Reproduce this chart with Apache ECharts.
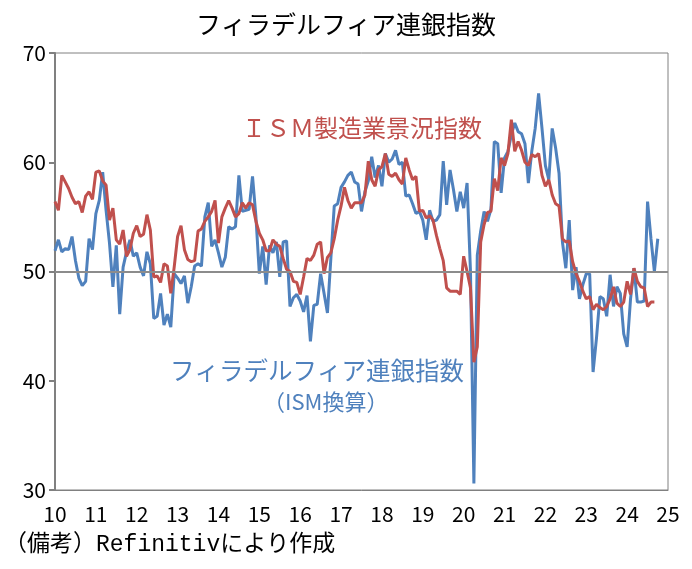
<!DOCTYPE html>
<html>
<head>
<meta charset="UTF-8">
<title>フィラデルフィア連銀指数</title>
<script src="https://cdn.jsdelivr.net/npm/echarts@6/dist/echarts.min.js"></script>
<style>
    html, body { margin: 0; padding: 0; background: #fff; }
    #chart { width: 692px; height: 569px; }
</style>
</head>
<body>
<div id="chart"></div>
<script>
    // 月次データ 2010年1月〜
    const yearLabels = ['10', '11', '12', '13', '14', '15', '16', '17', '18', '19', '20', '21', '22', '23', '24', '25'];

    // ISM製造業景況指数 (2010/1〜2024/9)
    const ismValues = [
        56.4, 55.6, 58.8, 58.2, 57.6, 56.8, 56.2, 56.4, 55.4, 56.9, 57.3, 56.6,
        59.1, 59.2, 58.3, 57.9, 54.7, 55.8, 52.9, 52.5, 53.8, 51.4, 52.0, 53.5,
        54.2, 53.2, 53.4, 55.2, 53.8, 49.5, 49.6, 49.0, 50.7, 50.5, 48.0, 50.4,
        53.2, 54.2, 52.0, 51.1, 50.9, 51.0, 53.7, 53.9, 54.6, 55.0, 55.5, 56.5,
        52.6, 55.0, 55.8, 56.5, 55.8, 55.0, 55.3, 56.3, 55.8, 56.3, 56.1, 54.6,
        53.5, 52.9, 51.9, 51.9, 52.9, 52.5, 52.3, 51.2, 50.2, 50.0, 49.1, 49.0,
        47.9, 49.5, 51.2, 51.0, 51.5, 52.5, 52.7, 49.8, 51.3, 51.7, 53.0, 54.7,
        56.0, 57.7, 56.5, 55.8, 56.3, 56.3, 56.3, 57.0, 60.1, 58.4, 57.8, 59.3,
        59.6, 60.8, 58.9, 58.7, 59.0, 58.4, 58.0, 60.4, 59.3, 58.4, 58.7, 55.5,
        55.6, 54.9, 55.1, 54.7, 53.3, 52.1, 51.0, 48.5, 48.2, 48.2, 48.2, 47.9,
        51.4, 50.0, 48.5, 41.7, 43.1, 52.7, 54.3, 55.4, 55.5, 58.5, 57.4, 60.4,
        59.7, 60.8, 63.9, 61.0, 61.9, 61.1, 60.0, 59.7, 60.7, 60.5, 60.8, 58.8,
        57.8, 58.4, 57.0, 56.2, 56.0, 53.0, 52.7, 52.8, 50.9, 49.8, 49.1, 48.2,
        47.5, 47.7, 46.5, 47.0, 46.7, 46.5, 46.8, 47.5, 48.6, 47.1, 46.8, 47.2,
        49.1, 47.9, 50.3, 49.1, 48.6, 48.5, 46.8, 47.2, 47.2
    ];

    // フィラデルフィア連銀指数 ISM換算 (2010/1〜2024/10)
    const phillyValues = [
        51.9, 52.9, 51.8, 52.1, 52.0, 53.2, 51.0, 49.4, 48.7, 49.1, 53.0, 52.0,
        55.3, 56.5, 59.1, 55.6, 52.6, 48.6, 52.4, 46.1, 50.4, 51.8, 52.9, 51.4,
        51.7, 50.4, 49.6, 51.8, 50.7, 45.7, 45.9, 48.0, 45.1, 46.1, 44.9, 49.8,
        49.4, 48.9, 49.6, 47.1, 48.6, 50.5, 50.7, 50.5, 55.0, 56.3, 52.3, 52.9,
        51.7, 50.4, 51.3, 54.1, 53.9, 54.1, 58.8, 55.5, 55.6, 55.7, 58.7, 55.0,
        49.8, 52.3, 48.8, 52.4, 51.7, 52.7, 49.5, 52.7, 52.8, 46.8, 47.6, 47.9,
        47.3, 46.3, 47.8, 43.6, 46.9, 47.0, 49.8, 48.0, 46.2, 51.2, 56.0, 56.2,
        57.7, 58.2, 58.8, 59.1, 58.2, 58.0, 55.5, 57.3, 58.3, 60.5, 58.6, 59.7,
        57.8, 60.8, 60.0, 60.3, 61.1, 59.8, 60.0, 56.9, 57.0, 56.2, 55.3, 55.5,
        54.7, 52.9, 55.6, 54.6, 54.7, 55.2, 60.1, 56.1, 59.3, 57.5, 55.5, 57.3,
        55.8, 58.1, 50.0, 30.6, 51.5, 53.7, 55.5, 54.6, 55.7, 61.9, 61.7, 57.2,
        60.4, 61.0, 62.5, 63.6, 62.8, 62.6, 61.7, 58.1, 61.0, 63.1, 66.3, 63.1,
        59.7, 58.4, 63.1, 61.3, 59.0, 52.7, 50.3, 54.7, 48.3, 50.4, 47.5, 48.8,
        49.8, 49.8, 40.8, 43.9, 47.7, 47.5, 45.9, 49.7, 46.8, 48.6, 48.0, 44.3,
        43.1, 47.5, 50.3, 47.2, 47.2, 47.3, 56.4, 53.0, 50.0, 53.0
    ];

    const refLine = 50;

    const FONT = "'Noto Sans CJK JP', sans-serif";
    const NOTE_FONT = "'Liberation Mono', 'Noto Sans CJK JP', monospace";
    const RED = '#C0504D';
    const BLUE = '#4F81BD';

    const chart = echarts.init(document.getElementById('chart'), null, { renderer: 'canvas' });

    const option = {
        animation: false,
        backgroundColor: '#fff',
        title: {
            text: 'フィラデルフィア連銀指数',
            left: 'center',
            top: 7,
            textStyle: { fontFamily: FONT, fontSize: 25, fontWeight: 'normal', color: '#000' }
        },
        grid: {
            left: 55,
            right: 24,
            top: 53,
            bottom: 79,
            show: true,
            borderColor: '#808080',
            borderWidth: 1
        },
        xAxis: {
            type: 'value',
            min: 0,
            max: 180,
            interval: 12,
            axisLine: { show: true, lineStyle: { color: '#808080', width: 1 } },
            axisTick: { show: false },
            splitLine: { show: false },
            axisLabel: {
                margin: 14,
                fontFamily: FONT,
                fontSize: 21,
                color: '#000',
                formatter: v => yearLabels[v / 12]
            }
        },
        yAxis: {
            type: 'value',
            min: 30,
            max: 70,
            interval: 10,
            axisLine: { show: true, lineStyle: { color: '#808080', width: 2 } },
            axisTick: { show: true, inside: false, length: 6, lineStyle: { color: '#808080', width: 2 } },
            splitLine: { show: false },
            axisLabel: { margin: 9, fontFamily: FONT, fontSize: 21, color: '#000' }
        },
        graphic: [
            {
                type: 'text', left: 242, top: 116,
                style: { text: 'ＩＳＭ製造業景況指数', fill: RED, font: '24px ' + FONT }
            },
            {
                type: 'text', left: 170, top: 358,
                style: { text: 'フィラデルフィア連銀指数', fill: BLUE, font: '24.5px ' + FONT }
            },
            {
                type: 'text', left: 263, top: 391,
                style: { text: '（ISM換算）', fill: BLUE, font: '22px ' + FONT }
            },
            {
                type: 'text', left: 4, top: 533,
                style: { text: '（備考）Refinitivにより作成', fill: '#000', font: '23px ' + NOTE_FONT }
            }
        ],
        series: [
            {
                name: 'フィラデルフィア連銀指数（ISM換算）',
                type: 'line',
                data: phillyValues.map((v, i) => [i, v]),
                showSymbol: false,
                lineStyle: { color: BLUE, width: 3 },
                itemStyle: { color: BLUE },
                z: 3,
                markLine: {
                    silent: true,
                    symbol: 'none',
                    label: { show: false },
                    lineStyle: { color: '#8c8c8c', width: 2, type: 'solid' },
                    data: [{ yAxis: refLine }]
                }
            },
            {
                name: 'ISM製造業景況指数',
                type: 'line',
                data: ismValues.map((v, i) => [i, v]),
                showSymbol: false,
                lineStyle: { color: RED, width: 3 },
                itemStyle: { color: RED },
                z: 4
            }
        ]
    };

    chart.setOption(option);
</script>
</body>
</html>
